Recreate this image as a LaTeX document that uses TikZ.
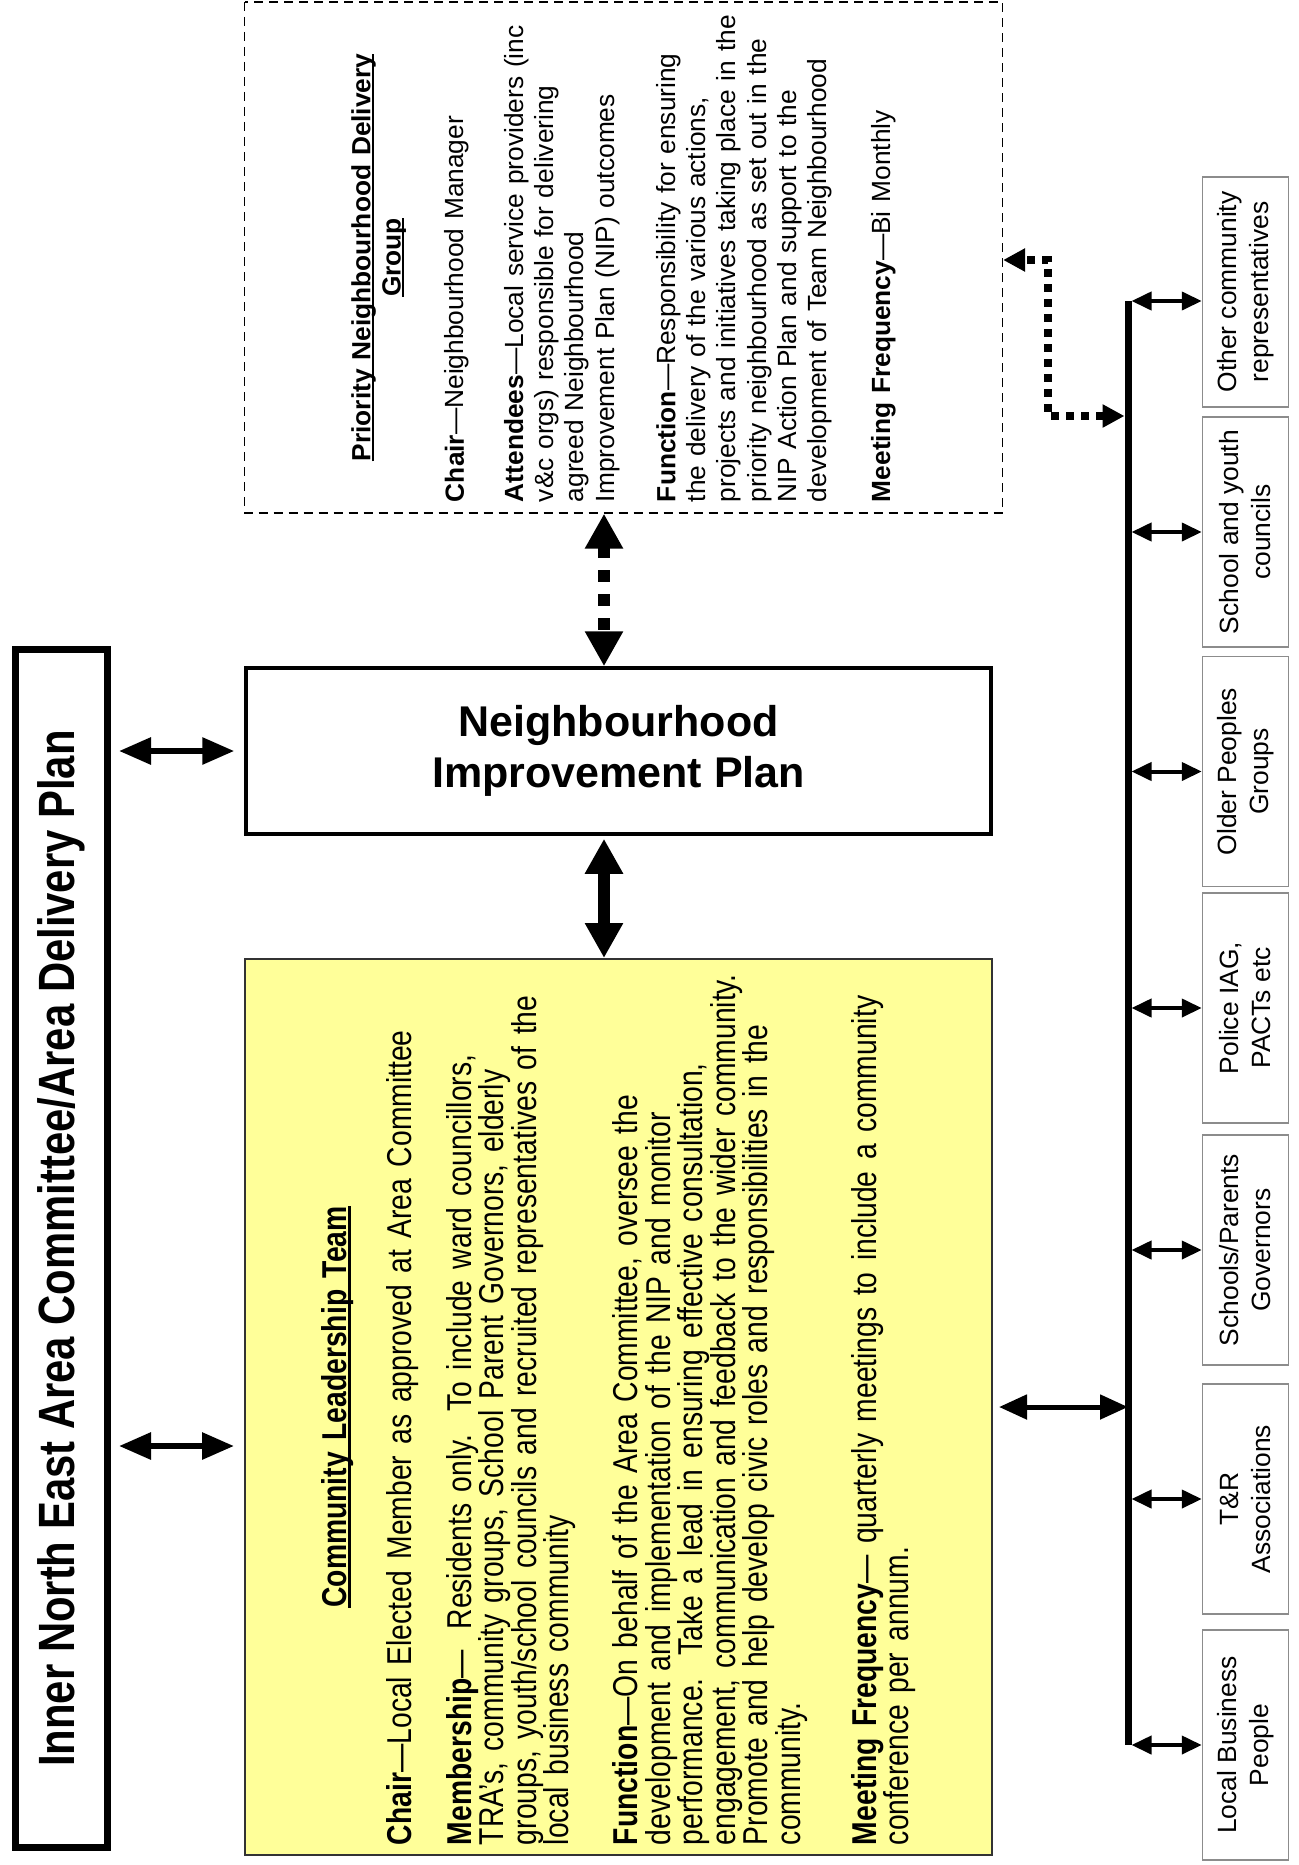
\documentclass[tikz,border=0pt]{standalone}
\usepackage{fontspec}
\setmainfont{Liberation Sans}
\newfontfamily\narrowfont[FakeStretch=0.82]{Liberation Sans}
\usetikzlibrary{arrows.meta}
\definecolor{cltyellow}{HTML}{FFFF99}
\definecolor{cltline}{HTML}{333333}
\definecolor{groupline}{HTML}{8C8C8C}
\newcommand{\ulined}[1]{\setbox0\hbox{#1}\rlap{\rule[-0.13em]{\wd0}{0.075em}}\box0}
\newcommand{\looselines}{\rightskip=-80pt plus 1fil\relax}
\tikzstyle{acbox} = [rectangle, draw=black, line width=7pt, minimum width=1198pt, minimum height=92pt, font=\fontsize{51}{60}\selectfont\narrowfont\bfseries]
\tikzstyle{nipbox} = [rectangle, draw=black, line width=3.5pt, minimum width=745pt, minimum height=166pt, align=center, font=\bfseries\fontsize{43}{51}\selectfont]
\tikzstyle{pndgbox} = [rectangle, draw=black, line width=1.3pt, dash pattern=on 9pt off 6pt, minimum width=511pt, minimum height=758pt, inner sep=0pt, text width=489pt, align=left, font=\fontsize{26.3}{30.3}\selectfont]
\tikzstyle{cltbox} = [rectangle, draw=cltline, fill=cltyellow, line width=2pt, minimum width=896pt, minimum height=747pt, inner sep=0pt, text width=876pt, align=left, font=\narrowfont\fontsize{34.5}{32.5}\selectfont]
\tikzstyle{groupbox} = [rectangle, draw=groupline, line width=1.5pt, minimum width=230pt, minimum height=86pt, inner sep=2pt, align=center, font=\fontsize{26.4}{32}\selectfont]
\tikzstyle{bus} = [line width=7pt]
\tikzstyle{bigarrow} = [line width=12pt, {Triangle[length=35pt,width=36pt]}-{Triangle[length=35pt,width=36pt]}]
\tikzstyle{bigdots} = [bigarrow, dash pattern=on 12pt off 12pt]
\tikzstyle{arrow} = [line width=6pt, {Triangle[length=32pt,width=26pt]}-{Triangle[length=32pt,width=26pt]}]
\tikzstyle{busarrow} = [line width=5pt, {Triangle[length=28pt,width=24pt]}-{Triangle[length=28pt,width=24pt]}]
\tikzstyle{grouparrow} = [line width=4pt, {Triangle[length=20pt,width=18pt]}-{Triangle[length=20pt,width=18pt]}]
\tikzstyle{linkdots} = [line width=8pt, dash pattern=on 8pt off 7pt, {Triangle[length=22pt,width=22pt]}-{Triangle[length=22pt,width=22pt]}]

\begin{document}
\begin{tikzpicture}[x=1pt, y=-1pt]
\useasboundingbox (0,0) rectangle (1298,1865);

\node (acdp) [acbox, rotate=90] at (61.5,1248.5) {Inner North East Area Committee/Area Delivery Plan};
\node (nip) [nipbox] at (618.5,751) {Neighbourhood\\Improvement Plan};

\node (pndg) [pndgbox, rotate=90] at (623.5,257.5) {\looselines
\makebox[\linewidth]{\bfseries\ulined{Priority Neighbourhood Delivery}}\\[0pt]
\makebox[\linewidth]{\bfseries\ulined{Group}}\\[33pt]
\textbf{Chair}—Neighbourhood Manager\\[29pt]
\textbf{Attendees}—Local service providers (inc\\
v\&c orgs) responsible for delivering\\
agreed Neighbourhood\\
Improvement Plan (NIP) outcomes\\[31pt]
\textbf{Function}—Responsibility for ensuring\\
the delivery of the various actions,\\
projects and initiatives taking place in the\\
priority neighbourhood as set out in the\\
NIP Action Plan and support to the\\
development of Team Neighbourhood\\[33pt]
\textbf{Meeting Frequency}—Bi Monthly};

\node (clt) [cltbox, rotate=90] at (618.5,1407) {\looselines
\makebox[\linewidth]{\bfseries\ulined{Community Leadership Team}}\\[32.5pt]
\textbf{Chair}—Local Elected Member as approved at Area Committee\\[27.5pt]
\textbf{Membership}—\hspace{0.6em}Residents only.\ \ To include ward councillors,\\
TRA’s, community groups, School Parent Governors, elderly\\
groups, youth/school councils and recruited representatives of the\\
local business community\\[36.5pt]
\textbf{Function}—On behalf of the Area Committee, oversee the\\
development and implementation of the NIP and monitor\\
performance.\ \ Take a lead in ensuring effective consultation,\\
engagement, communication and feedback to the wider community.\\
Promote and help develop civic roles and responsibilities in the\\
community.\\[43.5pt]
\textbf{Meeting Frequency}— quarterly meetings to include a community\\
conference per annum.};

\node (group1) [groupbox, rotate=90] at (1245.5,292) {Other community\\representatives};
\node (group2) [groupbox, rotate=90] at (1245.5,532) {School and youth\\councils};
\node (group3) [groupbox, rotate=90] at (1245.5,771.5) {Older Peoples\\Groups};
\node (group4) [groupbox, rotate=90] at (1245.5,1008) {Police IAG,\\PACTs etc};
\node (group5) [groupbox, rotate=90] at (1245.5,1250) {Schools/Parents\\Governors};
\node (group6) [groupbox, rotate=90] at (1245.5,1499) {T\&R\\Associations};
\node (group7) [groupbox, rotate=90] at (1245.5,1745) {Local Business\\People};

% bus line
\coordinate (bustop) at (1128,301);
\coordinate (busbottom) at (1128,1745);
\coordinate (link) at (1124.5,416);
\draw [bus] (bustop) -- (busbottom);

\draw [grouparrow, shorten <=3.5pt] (bustop) -- (bustop -| group1.north);
\draw [grouparrow, shorten <=3.5pt] (bustop |- group2.north) -- (group2.north);
\draw [grouparrow, shorten <=3.5pt] (bustop |- group3.north) -- (group3.north);
\draw [grouparrow, shorten <=3.5pt] (bustop |- group4.north) -- (group4.north);
\draw [grouparrow, shorten <=3.5pt] (bustop |- group5.north) -- (group5.north);
\draw [grouparrow, shorten <=3.5pt] (bustop |- group6.north) -- (group6.north);
\draw [grouparrow, shorten <=3.5pt] (busbottom) -- (busbottom -| group7.north);

\draw [busarrow, shorten <=6pt] (clt.south) -- (clt.south -| bustop);

\draw [arrow, shorten <=8pt, shorten >=10pt] (acdp.south |- nip.west) -- (nip.west);
\draw [arrow, shorten <=8pt, shorten >=10pt] (acdp.south |- 0,1446) -- (clt.north |- 0,1446);

\draw [bigarrow, shorten <=3pt] ([xshift=-14.5pt]nip.south) -- ([xshift=-14.5pt]clt.east);
\draw [bigdots] ([xshift=-19.5pt]pndg.west) -- ([xshift=-14.5pt]nip.north);

\draw [linkdots] (link) -| (1048,260) -- (pndg.south |- 0,260);

\end{tikzpicture}
\end{document}
